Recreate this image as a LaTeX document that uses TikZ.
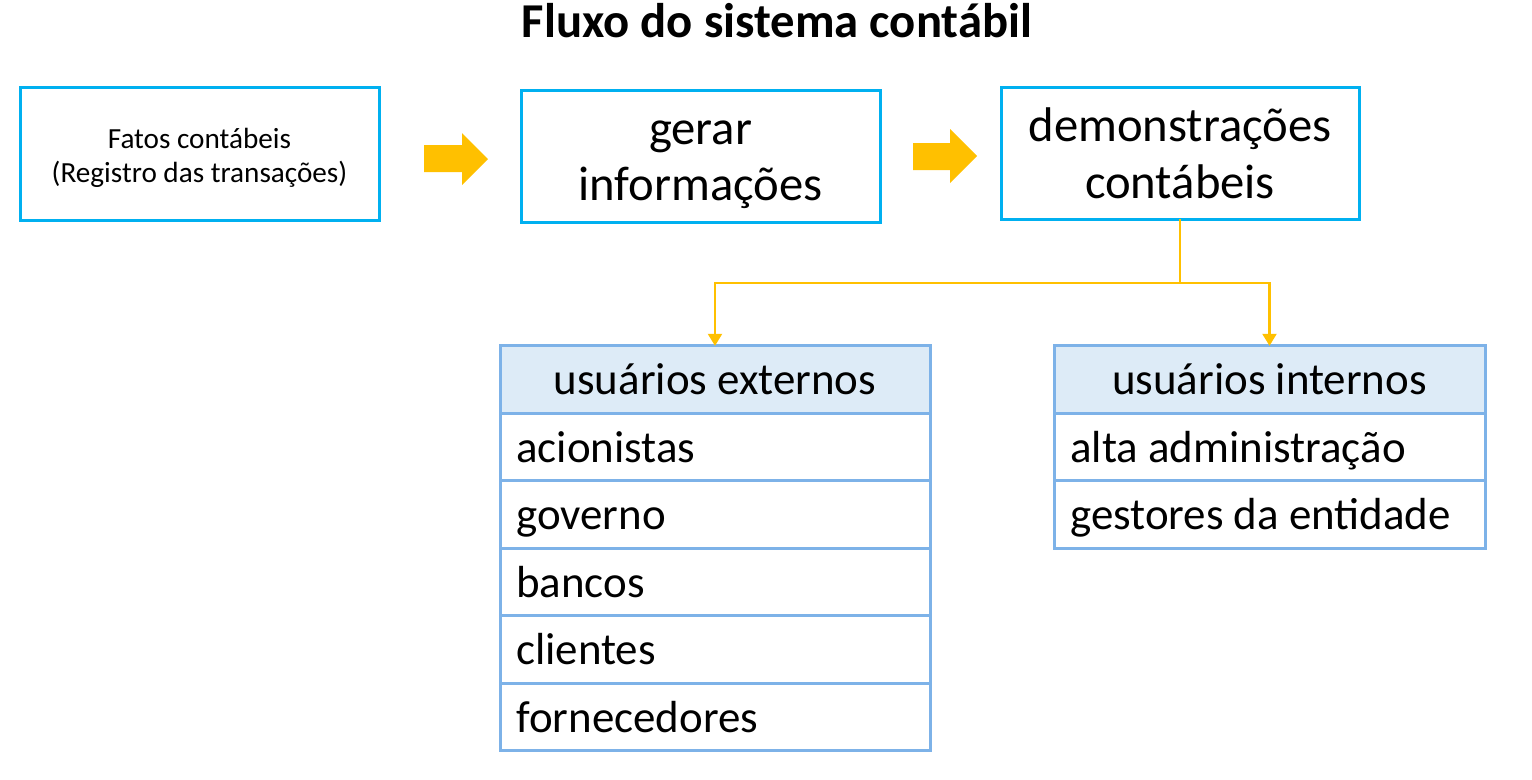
\documentclass[tikz,border=0pt]{standalone}
\usepackage{fontspec}
\setmainfont{Carlito}
\usetikzlibrary{arrows.meta}
\definecolor{boxblue}{RGB}{0,176,240}
\definecolor{arrorange}{RGB}{255,192,0}
\definecolor{tabline}{RGB}{125,178,232}
\definecolor{tabfill}{RGB}{221,235,247}
\tikzset{
  topbox/.style={draw=boxblue, line width=2.25pt, inner sep=0pt, outer sep=0pt, fill=white},
  bigtxt/.style={anchor=base, inner sep=0pt, font=\fontsize{36.5}{42.75}\selectfont},
  smalltxt/.style={anchor=base, inner sep=0pt, font=\fontsize{21.9}{25.5}\selectfont},
  hdrcell/.style={draw=tabline, fill=tabfill, line width=2.25pt, inner sep=0pt, outer sep=0pt, minimum height=50.5pt},
  rowcell/.style={draw=tabline, fill=white, line width=2.25pt, inner sep=0pt, outer sep=0pt, minimum height=50.5pt},
  tabtxt/.style={anchor=base, inner sep=0pt, font=\fontsize{33.7}{40}\selectfont},
  rowtxt/.style={anchor=base west, inner sep=0pt, font=\fontsize{33.7}{40}\selectfont},
  conn/.style={draw=arrorange, line width=1.6pt},
  blockarrow/.style={fill=arrorange, draw=none},
}
\begin{document}
\begin{tikzpicture}[x=0.75pt,y=-0.75pt]
\useasboundingbox (0,0) rectangle (1532,779);
% title
\node[anchor=base, inner sep=0pt, font=\fontsize{36.5}{42}\selectfont\bfseries] (title) at (777,37) {Fluxo do sistema contábil};
% top boxes
\node[topbox, minimum width=269.25pt, minimum height=99.75pt] (b1) at (199.5,153.5) {};
\node[smalltxt] (b1t1) at (b1.center |- 0,148) {Fatos contábeis};
\node[smalltxt] (b1t2) at (b1.center |- 0,182) {(Registro das transações)};
\node[topbox, minimum width=269.25pt, minimum height=99pt] (b2) at (700.5,156) {};
\node[bigtxt] (b2t1) at (b2.center |- 0,144) {gerar};
\node[bigtxt] (b2t2) at (b2.center |- 0,200) {informações};
\node[topbox, minimum width=268.5pt, minimum height=99pt] (b3) at (1180,153) {};
\node[bigtxt] (b3t1) at (b3.center |- 0,141) {demonstrações};
\node[bigtxt] (b3t2) at (b3.center |- 0,198) {contábeis};
% block arrows
\path[blockarrow] (424,145) -- (462,145) -- (462,133) -- (488,159) -- (462,185) -- (462,172) -- (424,172) -- cycle;
\path[blockarrow] (913,143) -- (950,143) -- (950,129) -- (977,156) -- (950,183) -- (950,170) -- (913,170) -- cycle;
% table 1
\node[hdrcell, minimum width=322.5pt] (t1h) at (715,379.5) {};
\node[rowcell, minimum width=322.5pt] (t1a) at (715,447) {};
\node[rowcell, minimum width=322.5pt] (t1b) at (715,514.5) {};
\node[rowcell, minimum width=322.5pt] (t1c) at (715,582) {};
\node[rowcell, minimum width=322.5pt] (t1d) at (715,649.5) {};
\node[rowcell, minimum width=322.5pt] (t1e) at (715,717) {};
\node[tabtxt] (t1ht) at (715,394.5) {usuários externos};
\node[rowtxt] (t1at) at (516,462) {acionistas};
\node[rowtxt] (t1bt) at (516,529.5) {governo};
\node[rowtxt] (t1ct) at (516,597) {bancos};
\node[rowtxt] (t1dt) at (516,664.5) {clientes};
\node[rowtxt] (t1et) at (516,732) {fornecedores};
% table 2
\node[hdrcell, minimum width=323.25pt] (t2h) at (1269.5,379.5) {};
\node[rowcell, minimum width=323.25pt] (t2a) at (1269.5,447) {};
\node[rowcell, minimum width=323.25pt] (t2b) at (1269.5,514.5) {};
\node[tabtxt] (t2ht) at (1269.5,394.5) {usuários internos};
\node[rowtxt] (t2at) at (1070,462) {alta administração};
\node[rowtxt] (t2bt) at (1070,529.5) {gestores da entidade};
% connectors
\draw[conn] (b3.south) -- ++(0,64) coordinate (j);
\draw[conn, -{Triangle[length=9pt,width=10.5pt]}] (j) -| (t1h.north);
\draw[conn, -{Triangle[length=9pt,width=10.5pt]}] (j) -| (t2h.north);
\end{tikzpicture}
\end{document}
